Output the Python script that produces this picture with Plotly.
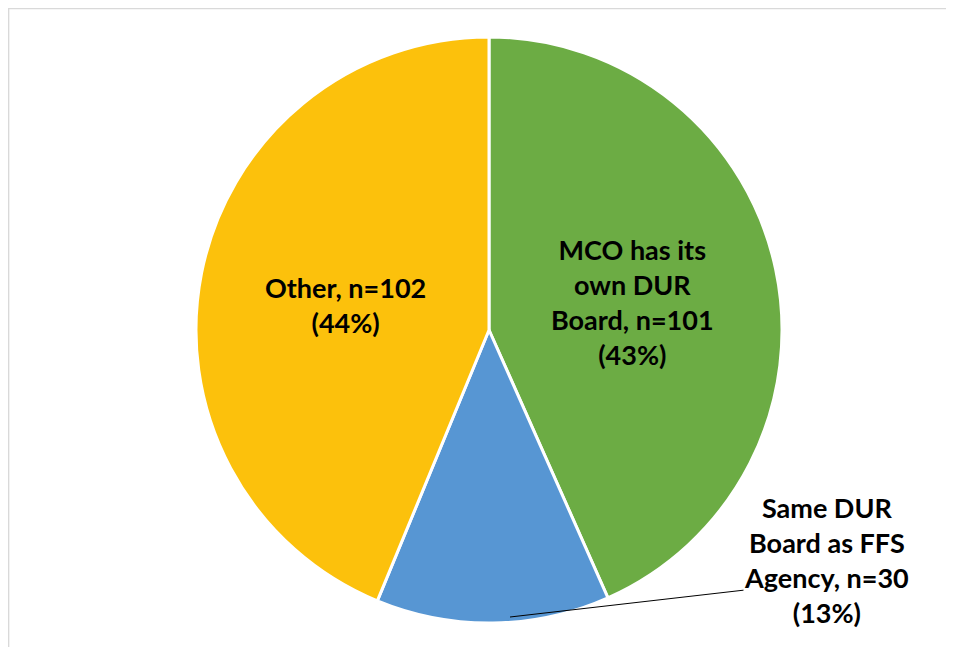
"""
Pie chart: DUR Board arrangement of MCOs
"""

import plotly.graph_objects as go

# Data
categorias = ['MCO has its own DUR Board', 'Same DUR Board as FFS Agency', 'Other']
valores = [101, 30, 102]
rotulos = [
    'MCO has its<br>own DUR<br>Board, n=101<br>(43%)',
    'Same DUR<br>Board as FFS<br>Agency, n=30<br>(13%)',
    'Other, n=102<br>(44%)',
]
cores = ['#6CAC44', '#5796D3', '#FCC10C']

W, H = 954, 647
OFF = 8  # page body margin


def px_x(sx):
    return (sx - OFF) / W


def px_y(sy):
    return 1 - (sy - OFF) / H


cx, cy, r = 489, 330, 293

fig = go.Figure(go.Pie(
    labels=categorias,
    values=valores,
    sort=False,
    direction='clockwise',
    rotation=0,
    marker=dict(colors=cores, line=dict(color='white', width=3)),
    textinfo='none',
    hoverinfo='label+value+percent',
    domain=dict(x=[px_x(cx - r), px_x(cx + r)], y=[px_y(cy + r), px_y(cy - r)]),
    showlegend=False,
))

fonte = dict(family='Lato, Carlito, Liberation Sans, sans-serif', size=27, color='black')

# Labels inside slices
for texto, sx, sy in [(rotulos[0], 632, 302), (rotulos[2], 345, 305), (rotulos[1], 826, 560)]:
    fig.add_annotation(text='<b>' + texto + '</b>', x=px_x(sx), y=px_y(sy),
                       xref='paper', yref='paper', xanchor='center', yanchor='middle',
                       showarrow=False, font=fonte, align='center')

# Leader line for the outside label
fig.add_annotation(x=px_x(510), y=px_y(617), xref='paper', yref='paper',
                   ax=235, ay=-27, axref='pixel', ayref='pixel',
                   showarrow=True, arrowhead=0, arrowwidth=1, arrowcolor='black',
                   text='')

# Chart frame
fig.add_shape(type='rect', xref='paper', yref='paper',
              x0=0.6 / W, y0=-0.05, x1=1.05, y1=1 - 0.6 / H,
              line=dict(color='#D9D9D9', width=1.5), layer='below')

fig.update_layout(
    width=W, height=H,
    margin=dict(l=0, r=0, t=0, b=0),
    paper_bgcolor='white',
    plot_bgcolor='white',
)

fig.write_html('out.html')
